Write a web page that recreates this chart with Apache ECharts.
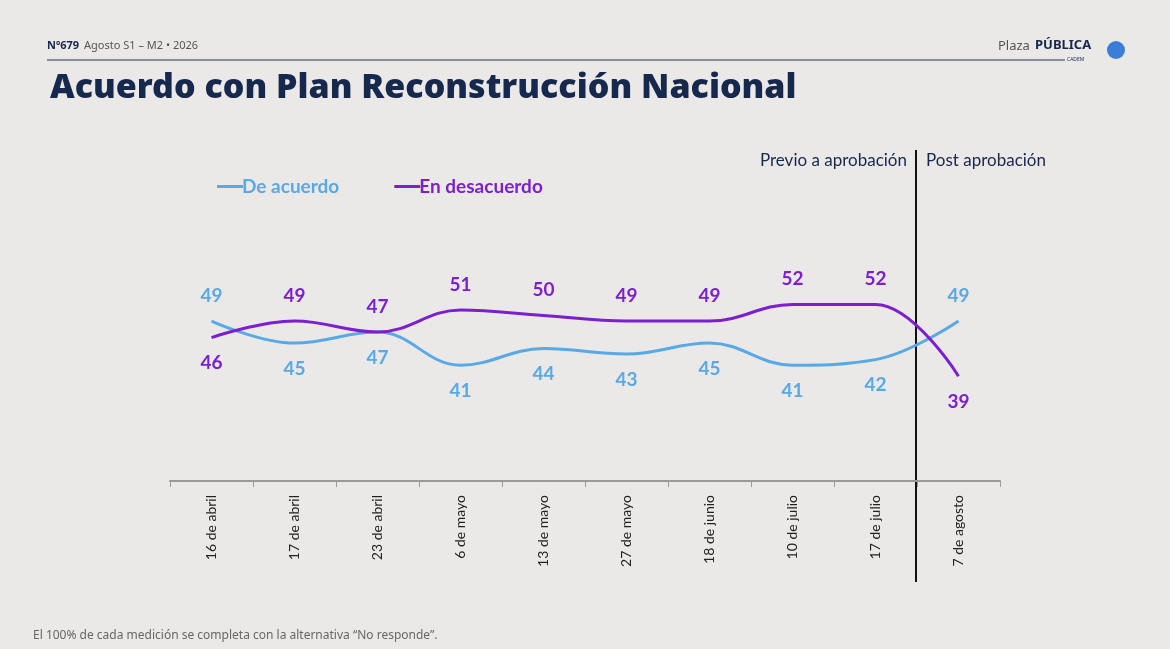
<!DOCTYPE html>
<html>
<head>
<meta charset="utf-8">
<script src="https://cdn.jsdelivr.net/npm/echarts@6/dist/echarts.min.js"></script>
<style>
html,body{margin:0;padding:0;background:#ebe9e8;}
#chart{width:1170px;height:649px;}
</style>
</head>
<body>
<div id="chart"></div>
<script>
var fechas = ['16 de abril', '17 de abril', '23 de abril', '6 de mayo', '13 de mayo', '27 de mayo', '18 de junio', '10 de julio', '17 de julio', '7 de agosto'];
var deAcuerdo = [49, 45, 47, 41, 44, 43, 45, 41, 42, 49];
var enDesacuerdo = [46, 49, 47, 51, 50, 49, 49, 52, 52, 39];

var azul = '#58a9e6';
var morado = '#7b1fd1';

function withLabels(values, other) {
    return values.map(function (v, i) {
        return { value: v, label: { position: v > other[i] || (v === other[i] && values === enDesacuerdo) ? 'top' : 'bottom' } };
    });
}

var chart = echarts.init(document.getElementById('chart'));
var option = {
    backgroundColor: '#ebe9e8',
    textStyle: { fontFamily: 'Lato, "Noto Sans", sans-serif' },
    title: {
        text: 'Acuerdo con Plan Reconstrucción Nacional',
        left: 45, top: 66,
        textStyle: { fontSize: 34, fontWeight: 900, color: '#17284d', fontFamily: '"Noto Sans", sans-serif' }
    },
    legend: {
        left: 212, top: 172,
        itemGap: 55, itemWidth: 26, itemHeight: 3,
        icon: 'rect',
        textStyle: { fontSize: 19, fontWeight: 'bold', padding: [0, 0, 0, -6] },
        data: [
            { name: 'De acuerdo', textStyle: { color: azul } },
            { name: 'En desacuerdo', textStyle: { color: morado } }
        ]
    },
    grid: { left: 170, right: 170, top: 150, bottom: 168 },
    xAxis: {
        type: 'category',
        data: fechas,
        boundaryGap: true,
        axisLine: { lineStyle: { color: '#9a9a9a', width: 2 } },
        axisTick: { show: true, length: 6, lineStyle: { color: '#9a9a9a' } },
        axisLabel: { rotate: 90, color: '#222', fontSize: 14, margin: 14 }
    },
    yAxis: { type: 'value', min: 20, max: 80, show: false },
    series: [
        {
            name: 'De acuerdo', type: 'line', smooth: 0.4, symbol: 'circle', symbolSize: 0, showSymbol: true,
            lineStyle: { color: azul, width: 3 }, itemStyle: { color: azul },
            label: { show: true, color: azul, fontSize: 19, fontWeight: 'bold', distance: 16 },
            data: withLabels(deAcuerdo, enDesacuerdo)
        },
        {
            name: 'En desacuerdo', type: 'line', smooth: 0.4, symbol: 'circle', symbolSize: 0, showSymbol: true,
            lineStyle: { color: morado, width: 3 }, itemStyle: { color: morado },
            label: { show: true, color: morado, fontSize: 19, fontWeight: 'bold', distance: 16 },
            data: withLabels(enDesacuerdo, deAcuerdo)
        }
    ],
    graphic: [
        { type: 'text', left: 47, top: 40, style: { text: 'Nº679', font: 'bold 11px "Noto Sans"', fill: '#17284d' } },
        { type: 'text', left: 84, top: 40, style: { text: 'Agosto S1 – M2 • 2026', font: '11px "Noto Sans"', fill: '#555' } },
        { type: 'line', shape: { x1: 47, y1: 60, x2: 1065, y2: 60 }, style: { stroke: '#8a8d9c', lineWidth: 2 } },
        { type: 'text', left: 998, top: 40, style: { text: 'Plaza', font: '13px "Noto Sans"', fill: '#555' } },
        { type: 'text', left: 1035, top: 39, style: { text: 'PÚBLICA', font: 'bold 13px "Noto Sans"', fill: '#17284d' } },
        { type: 'text', left: 1067, top: 57, style: { text: 'CADEM', font: '5px "Noto Sans"', fill: '#17284d' } },
        { type: 'circle', shape: { cx: 1116, cy: 50, r: 9 }, style: { fill: '#3a7fd5' } },
        { type: 'line', shape: { x1: 916, y1: 150, x2: 916, y2: 582 }, style: { stroke: '#111', lineWidth: 2 } },
        { type: 'text', right: 1170 - 907, top: 152, style: { text: 'Previo a aprobación', font: '17px Lato', fill: '#17284d', align: 'right' } },
        { type: 'text', left: 926, top: 152, style: { text: 'Post aprobación', font: '17px Lato', fill: '#17284d' } },
        { type: 'text', left: 33, top: 630, style: { text: 'El 100% de cada medición se completa con la alternativa “No responde”.', font: '12px "Noto Sans"', fill: '#666' } }
    ]
};
chart.setOption(option);
</script>
</body>
</html>
